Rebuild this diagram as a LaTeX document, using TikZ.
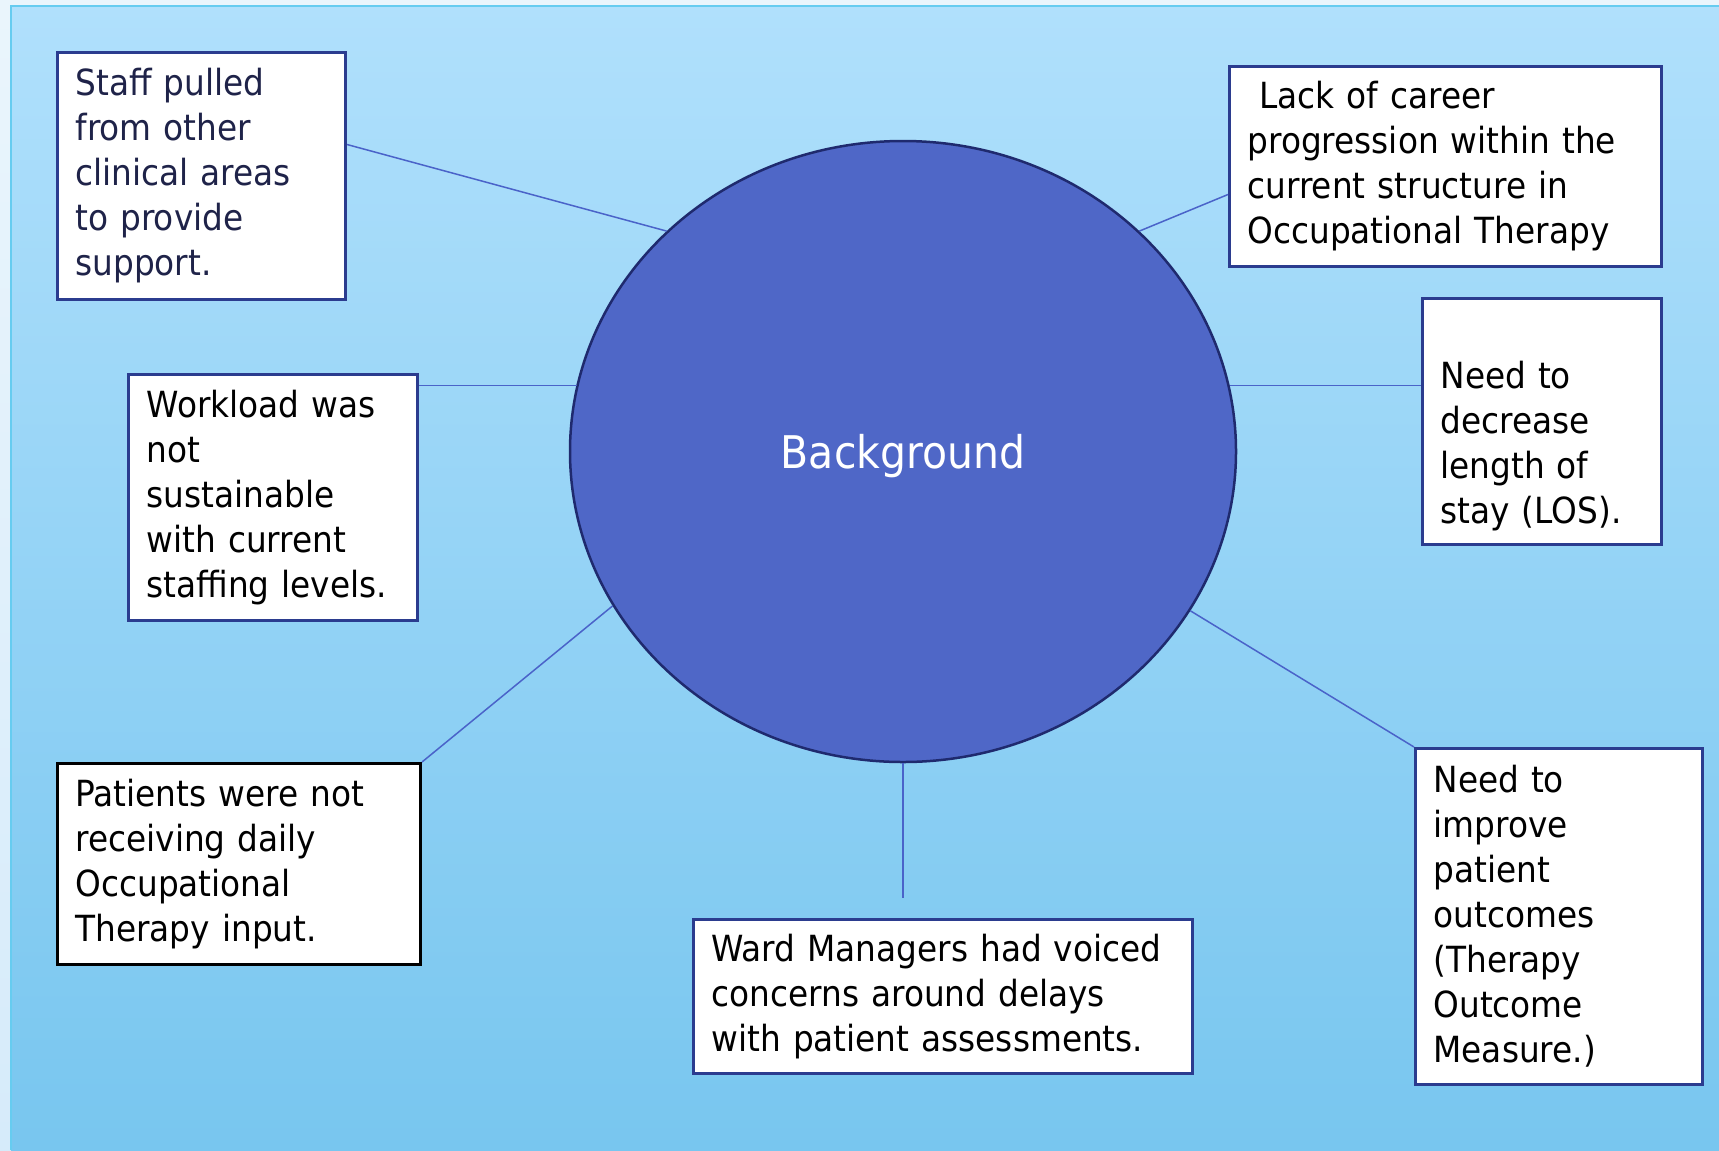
\documentclass[tikz,border=0pt]{standalone}
\usepackage{fontspec}
\setmainfont{DejaVu Sans}[FakeStretch=0.91]
\usetikzlibrary{positioning, calc, shapes.geometric, backgrounds}
\definecolor{page_edge_top}{HTML}{EAF5FC}
\definecolor{page_edge_bottom}{HTML}{D6EBFA}
\definecolor{slide_top}{HTML}{B0E0FC}
\definecolor{slide_bottom}{HTML}{78C6EF}
\definecolor{slide_rule}{HTML}{66CCF0}
\definecolor{core_fill}{HTML}{4F67C7}
\definecolor{core_line}{HTML}{1F2A6E}
\definecolor{box_line}{HTML}{2B3C8F}
\definecolor{link}{HTML}{4A63C9}
\definecolor{staff_text}{HTML}{1F2349}

\begin{document}
\begin{tikzpicture}[
    x=1bp, y=-1bp,
    font=\fontsize{36bp}{45bp}\selectfont,
    core/.style={
        ellipse,
        draw=core_line,
        line width=2.5bp,
        fill=core_fill,
        text=white,
        inner sep=0pt,
        text depth=0pt,
        minimum width=666bp,
        minimum height=621bp,
        font=\fontsize{45bp}{54bp}\selectfont
    },
    box/.style={
        draw=box_line,
        line width=3bp,
        fill=white,
        align=left,
        anchor=north west,
        inner xsep=18bp,
        inner ysep=0pt
    },
    box_dark/.style={box, draw=black},
    link/.style={draw=link, line width=1.5bp}
]
\useasboundingbox (0,0) rectangle (1719,1150);

% slide background
\shade[top color=page_edge_top, bottom color=page_edge_bottom] (0,0) rectangle (1719,1150);
\shade[top color=slide_top, bottom color=slide_bottom] (11,6) rectangle (1719,1150);
\draw[slide_rule, line width=2bp] (11,1150) -- (11,6) -- (1719,6);

\node[core] (Core) at (903,451.5) {Background};

\node[box, text=staff_text, text width=252bp, minimum height=247bp] (Staff) at (56,51)
    {Staff pulled\\from other\\clinical areas\\to provide\\support.};
\node[box, text width=396bp, minimum height=200bp] (Career) at (1228,65)
    {\ Lack of career\\progression within the\\current structure in\\Occupational Therapy};
\node[box, text width=203bp, minimum height=246bp] (LOS) at (1421,297)
    {\strut\\Need to\\decrease\\length of\\stay (LOS).};
\node[box, text width=253bp, minimum height=246bp] (Load) at (127,373)
    {Workload was\\not\\sustainable\\with current\\staffing levels.};
\node[box_dark, text width=327bp, minimum height=201bp] (Input) at (56,762)
    {Patients were not\\receiving daily\\Occupational\\Therapy input.};
\node[box, text width=463bp, minimum height=154bp] (Ward) at (692,918)
    {Ward Managers had voiced\\concerns around delays\\with patient assessments.};
\node[box, text width=251bp, minimum height=336bp] (Outcome) at (1414,747)
    {Need to\\improve\\patient\\outcomes\\(Therapy\\Outcome\\Measure.)};

% level ends for the two side links
\coordinate (LoadEnd) at ([yshift=-12.5bp]Load.north east);
\coordinate (LOSEnd) at ([yshift=36bp]LOS.west);

\draw[link] ([yshift=31.5bp]Staff.east) -- (Core.137);
\draw[link] ([yshift=-28bp]Career.west) -- (Core.43);
\draw[link] (LOSEnd) -- (Core.11.7 |- LOSEnd);
\draw[link] (LoadEnd) -- (Core.168.3 |- LoadEnd);
\draw[link] (Input.north east) -- (Core.208.9);
\draw[link] (Outcome.north west) -- (Core.331.1);
\draw[link, shorten >=20bp] (Core.south) -- (Core.south |- Ward.north);

\end{tikzpicture}
\end{document}
